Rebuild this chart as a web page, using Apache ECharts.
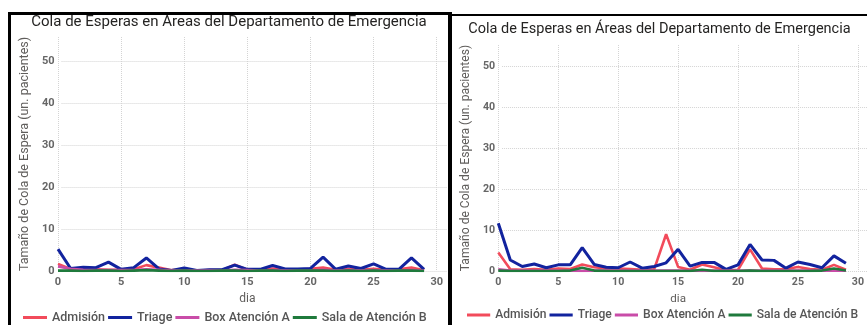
<!DOCTYPE html>
<html>
<head>
<meta charset="utf-8">
<script src="https://cdn.jsdelivr.net/npm/echarts@6/dist/echarts.min.js"></script>
<style>
  html, body { margin: 0; padding: 0; background: #fff; overflow: hidden; }
  body { width: 867px; height: 325px; position: relative; }
  .chart { position: absolute; top: 0; height: 325px; }
  #chartLeft { left: 10px; width: 438px; }
  #chartRight { left: 452px; width: 415px; }
  .rule { position: absolute; background: #000; z-index: 5; }
</style>
</head>
<body>
<div id="chartLeft" class="chart"></div>
<div id="chartRight" class="chart"></div>
<div class="rule" style="left:8px;top:12px;width:442px;height:3px"></div>
<div class="rule" style="left:8px;top:12px;width:3px;height:313px"></div>
<div class="rule" style="left:448px;top:12px;width:4px;height:313px"></div>
<div class="rule" style="left:450px;top:14px;width:417px;height:2px"></div>
<script>
// Simulation days (x axis)
const days = [0,1,2,3,4,5,6,7,8,9,10,11,12,13,14,15,16,17,18,19,20,21,22,23,24,25,26,27,28,29];

// Area names, in legend order
const areas = ['Admisión', 'Triage', 'Box Atención A', 'Sala de Atención B'];
const areaColors = ['#F24B5B', '#12239E', '#C94CA8', '#1F7A3C'];

// Axis text
const chartTitleLeft = 'Cola de Esperas en Areas del Departamento de Emergencia';
const chartTitleRight = 'Cola de Esperas en Áreas del Departamento de Emergencia';
const yAxisName = 'Tamaño de Cola de Espera (un. pacientes)';
const xAxisName = 'dia';

// Queue sizes, first scenario
const admision1 = [1.7,0.5,0.4,0.4,0.3,0.3,0.4,1.4,0.8,0.2,0.3,0.1,0.2,0.2,1.5,0.3,0.2,0.6,0.3,0.3,0.5,0.8,0.3,0.5,0.3,0.5,0.3,0.4,0.8,0.2];
const triage1   = [5.2,0.6,0.9,0.8,2.1,0.4,0.8,3.1,0.5,0.1,0.7,0.1,0.3,0.3,1.4,0.4,0.4,1.3,0.5,0.5,0.6,3.3,0.4,1.2,0.6,1.7,0.4,0.4,3.1,0.4];
const boxA1     = [1.1,0.5,0.3,0.2,0.2,0.2,0.2,0.4,0.3,0.1,0.1,0.1,0.1,0.1,0.3,0.2,0.1,0.2,0.1,0.1,0.1,0.3,0.1,0.2,0.1,0.2,0.1,0.1,0.2,0.1];
const salaB1    = [0.1,0.1,0.0,0.1,0.1,0.0,0.1,0.2,0.1,0.0,0.1,0.0,0.0,0.1,0.1,0.0,0.1,0.1,0.0,0.1,0.1,0.1,0.0,0.1,0.0,0.1,0.0,0.1,0.1,0.0];

// Queue sizes, second scenario
const admision2 = [4.5,0.4,0.3,0.5,0.3,0.6,0.5,1.6,0.9,0.6,0.6,0.5,0.3,0.4,9.0,1.0,0.3,1.6,0.9,0.2,0.3,5.3,0.6,0.4,0.5,1.0,0.5,0.3,1.5,0.3];
const triage2   = [11.7,2.7,1.1,1.7,0.8,1.5,1.5,5.7,1.6,0.9,0.8,2.2,0.7,1.1,2.0,5.3,1.2,2.1,2.1,0.4,1.5,6.5,2.7,2.6,0.7,2.2,1.6,0.8,3.7,1.9];
const boxA2     = [0.4,0.1,0.1,0.1,0.1,0.1,0.1,0.0,0.1,0.1,0.1,0.1,0.1,0.1,0.1,0.1,0.1,0.0,0.1,0.1,0.1,0.1,0.1,0.1,0.1,0.1,0.1,0.1,0.1,0.1];
const salaB2    = [0.1,0.0,0.0,0.0,0.0,0.0,0.1,0.8,0.1,0.0,0.0,0.0,0.0,0.0,0.0,0.0,0.0,0.3,0.0,0.0,0.0,0.1,0.0,0.0,0.0,0.0,0.0,0.1,0.6,0.1];

const FONT = 'Roboto';
const GRID_LINE = { show: true, lineStyle: { color: '#d4d4d4', type: 'dotted', width: 1 } };

function buildOption(cfg) {
  const seriesValues = cfg.values;
  const s = cfg.scale;
  const tickLabel = { color: '#666666', fontFamily: FONT, fontSize: 11 * s, fontWeight: 'bold' };
  return {
    animation: false,
    title: {
      text: cfg.title, left: 'center', top: cfg.titleTop, padding: 0,
      textStyle: { fontFamily: FONT, fontSize: 15 * s, fontWeight: 'normal', color: '#252423' }
    },
    legend: {
      show: true,
      left: cfg.legendLeft, top: cfg.legendTop, width: 600, padding: 0,
      icon: 'rect', itemWidth: 24 * s, itemHeight: 3, itemGap: 3,
      textStyle: { fontFamily: FONT, fontSize: 12.5 * s, color: '#555555', fontWeight: 500 },
      data: areas
    },
    grid: [
      // background grid: horizontal grid lines and y labels
      { left: cfg.bgLeft, right: cfg.bgRight, top: cfg.top, bottom: 54 },
      // data grid: day axis
      { left: cfg.dataLeft, right: cfg.dataRight, top: cfg.top, bottom: 54 }
    ],
    xAxis: [
      { gridIndex: 0, type: 'value', min: 0, max: 1, show: false },
      {
        gridIndex: 1, type: 'value', min: 0, max: 30, interval: 5,
        axisLine: { show: false }, axisTick: { show: false },
        axisLabel: Object.assign({ margin: 6 }, tickLabel),
        splitLine: GRID_LINE,
        name: xAxisName, nameLocation: 'middle', nameGap: 21,
        nameTextStyle: { fontFamily: FONT, fontSize: 12 * s, color: '#605E5C' }
      }
    ],
    yAxis: [
      {
        gridIndex: 0, type: 'value', min: 0, max: cfg.yMax, interval: 10,
        axisLine: { show: false }, axisTick: { show: false },
        axisLabel: Object.assign({ margin: 7, showMaxLabel: false }, tickLabel),
        splitLine: Object.assign({ showMaxLine: false }, GRID_LINE),
        name: yAxisName, nameLocation: 'middle', nameGap: 25,
        nameTextStyle: { fontFamily: FONT, fontSize: 12.5 * s, color: '#605E5C' }
      },
      { gridIndex: 1, type: 'value', min: 0, max: cfg.yMax, show: false }
    ],
    series: areas.map((name, i) => ({
      name: name,
      type: 'line',
      xAxisIndex: 1, yAxisIndex: 1,
      symbol: 'none',
      color: areaColors[i],
      lineStyle: { width: i === 1 ? 3 : 2.6, color: areaColors[i] },
      data: days.map((d, k) => [d, seriesValues[i][k]])
    }))
  };
}

const left = echarts.init(document.getElementById('chartLeft'), null, { renderer: 'canvas' });
left.setOption(buildOption({
  title: chartTitleLeft, titleTop: 15, scale: 1,
  values: [admision1, triage1, boxA1, salaB1],
  top: 37, yMax: 55.7,
  bgLeft: 38, bgRight: 1, dataLeft: 48, dataRight: 11.3,
  legendLeft: 13, legendTop: 311
}));

const right = echarts.init(document.getElementById('chartRight'), null, { renderer: 'canvas' });
right.setOption(buildOption({
  title: chartTitleRight, titleTop: 22, scale: 0.967,
  values: [admision2, triage2, boxA2, salaB2],
  top: 45, yMax: 55.3,
  bgLeft: 38, bgRight: 0, dataLeft: 46.3, dataRight: 3.7,
  legendLeft: 15, legendTop: 309
}));
</script>
</body>
</html>
